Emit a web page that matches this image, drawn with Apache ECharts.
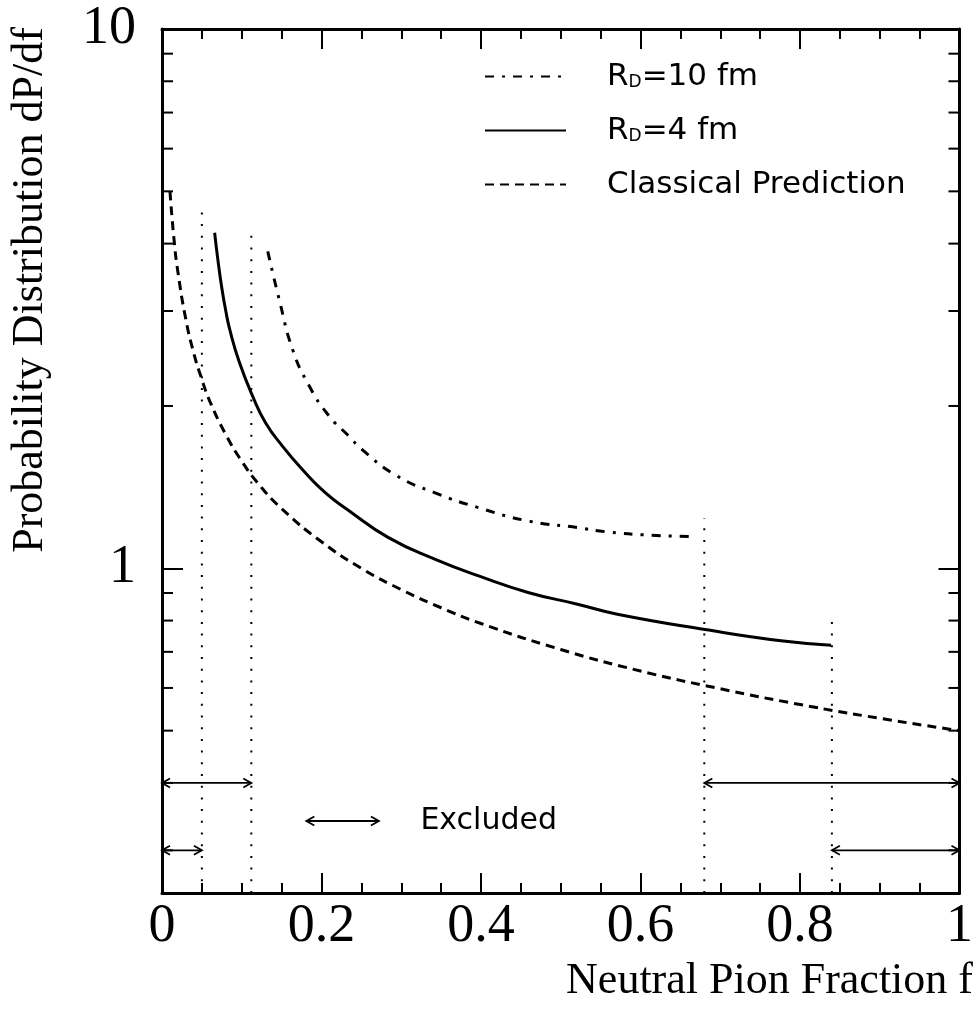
<!DOCTYPE html>
<html>
<head>
<meta charset="utf-8">
<script src="https://cdn.jsdelivr.net/npm/echarts@6/dist/echarts.min.js"></script>
<style>
html,body{margin:0;padding:0;background:#fff;}
#chart{width:976px;height:1015px;}
</style>
</head>
<body>
<div id="chart"></div>
<script>
// ---------- data ----------
const xTickLabels = ['0', '0.2', '0.4', '0.6', '0.8', '1'];
const yTickValues = [1, 10];
const yTickLabels = ['1', '10'];
const yMinorTicks = [0.3, 0.4, 0.5, 0.6, 0.7, 0.8, 0.9, 2, 3, 4, 5, 6, 7, 8, 9];

const seriesNames = ['R_D=10 fm', 'R_D=4 fm', 'Classical Prediction'];

// Classical prediction (dashed)
const classicalF = [0.01, 0.015, 0.02, 0.03, 0.04, 0.05, 0.06, 0.08, 0.10, 0.12, 0.15, 0.20, 0.25, 0.30, 0.35, 0.40, 0.50, 0.60, 0.70, 0.80, 0.90, 1.00];
const classicalP = [5.0, 4.08, 3.54, 2.89, 2.50, 2.24, 2.04, 1.77, 1.58, 1.44, 1.29, 1.12, 1.00, 0.913, 0.845, 0.79, 0.707, 0.645, 0.598, 0.559, 0.527, 0.50];

// R_D = 4 fm (solid)
const rd4F = [0.066, 0.070, 0.075, 0.080, 0.085, 0.097, 0.114, 0.130, 0.151, 0.176, 0.205, 0.234, 0.284, 0.342, 0.397, 0.459, 0.521, 0.571, 0.681, 0.779, 0.839];
const rd4P = [4.19, 3.74, 3.31, 3.00, 2.77, 2.41, 2.08, 1.86, 1.685, 1.525, 1.38, 1.28, 1.14, 1.04, 0.968, 0.902, 0.858, 0.822, 0.770, 0.733, 0.720];

// R_D = 10 fm (dash-dot)
const rd10F = [0.1326, 0.147, 0.164, 0.1845, 0.209, 0.234, 0.251, 0.2925, 0.344, 0.3965, 0.459, 0.521, 0.5586, 0.6126, 0.669];
const rd10P = [3.87, 3.15, 2.54, 2.18, 1.92, 1.76, 1.66, 1.49, 1.377, 1.296, 1.224, 1.19, 1.168, 1.152, 1.145];

// vertical dotted boundaries of the excluded regions
const boundaryF = [0.05, 0.112, 0.68, 0.84];
const boundaryTop = [4.68, 4.28, 1.24, 0.80];

// excluded ranges (double arrows)
const excludedFrom = [0, 0.68, 0, 0.84];
const excludedTo = [0.112, 1, 0.05, 1];
const excludedLevel = [0.4, 0.4, 0.3, 0.3];

// ---------- chart ----------
const Y_MIN = 0.25, Y_MAX = 10;
const SERIF = '"Liberation Serif", "Times New Roman", serif';
const SANS = '"DejaVu Sans", sans-serif';
const keyArrow = { from: 0.181, to: 0.272, level: 0.34, textAt: 0.324 };

function arrowChildren(x1, x2, y) {
  const st = { stroke: '#000', lineWidth: 1.8, fill: null };
  const h = 8, w = 4.5;
  return [
    { type: 'line', shape: { x1: x1, y1: y, x2: x2, y2: y }, style: st },
    { type: 'polyline', shape: { points: [[x1 + h, y - w], [x1, y], [x1 + h, y + w]] }, style: st },
    { type: 'polyline', shape: { points: [[x2 - h, y - w], [x2, y], [x2 - h, y + w]] }, style: st }
  ];
}

const axisLineStyle = { color: '#000', width: 3 };
const tickStyle = { color: '#000', width: 2 };

const chart = echarts.init(document.getElementById('chart'), null, { renderer: 'canvas' });

const option = {
  animation: false,
  backgroundColor: '#fff',
  grid: { left: 162, right: 12, top: 29, bottom: 122, containLabel: false },
  xAxis: [
    {
      type: 'value', min: 0, max: 1, interval: 0.2, position: 'bottom',
      axisLine: { show: true, onZero: false, lineStyle: axisLineStyle },
      axisTick: { show: true, inside: true, length: 20, lineStyle: tickStyle },
      minorTick: { show: true, splitNumber: 4, length: 10, lineStyle: tickStyle },
      splitLine: { show: false }, minorSplitLine: { show: false },
      axisLabel: {
        show: true, fontFamily: SERIF, fontSize: 54, color: '#000', margin: 7, lineHeight: 54,
        formatter: v => xTickLabels[Math.round(v / 0.2)]
      }
    },
    {
      type: 'value', min: 0, max: 1, interval: 0.2, position: 'top',
      axisLine: { show: true, onZero: false, lineStyle: axisLineStyle },
      axisTick: { show: true, inside: true, length: 20, lineStyle: tickStyle },
      minorTick: { show: true, splitNumber: 4, length: 10, lineStyle: tickStyle },
      splitLine: { show: false }, minorSplitLine: { show: false },
      axisLabel: { show: false }
    }
  ],
  yAxis: [
    {
      type: 'log', logBase: 10, min: Y_MIN, max: Y_MAX, position: 'left',
      axisLine: { show: true, onZero: false, lineStyle: axisLineStyle },
      axisTick: { show: true, inside: true, length: 21, lineStyle: tickStyle },
      splitLine: { show: false },
      axisLabel: {
        show: true, fontFamily: SERIF, fontSize: 54, color: '#000', margin: 26,
        showMinLabel: true, showMaxLabel: true,
        formatter: v => {
          const i = yTickValues.findIndex(t => Math.abs(t - v) < 1e-6);
          return i >= 0 ? yTickLabels[i] : '';
        }
      }
    },
    {
      type: 'log', logBase: 10, min: Y_MIN, max: Y_MAX, position: 'right',
      axisLine: { show: true, onZero: false, lineStyle: axisLineStyle },
      axisTick: { show: true, inside: true, length: 21, lineStyle: tickStyle },
      splitLine: { show: false },
      axisLabel: { show: false }
    }
  ],
  legend: {
    data: seriesNames,
    orient: 'vertical',
    left: 484, top: 61, padding: 0,
    itemWidth: 81, itemHeight: 14, itemGap: 23,
    selectedMode: false,
    itemStyle: { opacity: 0 },
    formatter: name => name.replace('R_D', 'R{sub|D}'),
    textStyle: {
      fontFamily: SANS, fontSize: 31, color: '#000', lineHeight: 30,
      padding: [0, 0, 0, 36],
      rich: {
        sub: { fontFamily: SANS, fontSize: 17, lineHeight: 17, color: '#000', verticalAlign: 'bottom' }
      }
    }
  },
  graphic: [
    {
      type: 'text', x: 973, y: 981, silent: true,
      style: { text: 'Neutral Pion Fraction f', fontFamily: SERIF, fontSize: 44, fill: '#000', align: 'right', verticalAlign: 'middle' }
    },
    {
      type: 'text', x: 30, y: 290, rotation: Math.PI / 2, silent: true,
      style: { text: 'Probability Distribution dP/df', fontFamily: SERIF, fontSize: 44, fill: '#000', align: 'center', verticalAlign: 'middle' }
    }
  ],
  series: [
    {
      name: seriesNames[0], type: 'line', symbol: 'none', showSymbol: false,
      smooth: 0.5,
      data: rd10F.map((f, i) => [f, rd10P[i]]),
      lineStyle: { color: '#000', width: 3, type: [9, 8, 3, 8] },
      itemStyle: { color: '#000' }, z: 3
    },
    {
      name: seriesNames[1], type: 'line', symbol: 'none', showSymbol: false,
      smooth: 0.5,
      data: rd4F.map((f, i) => [f, rd4P[i]]),
      lineStyle: { color: '#000', width: 3, type: 'solid' },
      itemStyle: { color: '#000' }, z: 3
    },
    {
      name: seriesNames[2], type: 'line', symbol: 'none', showSymbol: false,
      smooth: 0.5,
      data: classicalF.map((f, i) => [f, classicalP[i]]),
      lineStyle: { color: '#000', width: 3, type: [9, 6] },
      itemStyle: { color: '#000' }, z: 3
    },
    {
      name: 'boundaries', type: 'custom', silent: true, z: 2,
      data: boundaryF.map((f, i) => [f, boundaryTop[i]]),
      renderItem: (params, api) => {
        const f = api.value(0), top = api.value(1);
        const p0 = api.coord([f, Y_MIN]);
        const p1 = api.coord([f, top]);
        return {
          type: 'line',
          shape: { x1: p0[0], y1: p0[1], x2: p1[0], y2: p1[1] },
          style: { stroke: '#000', lineWidth: 2, lineDash: [2, 9.7] }
        };
      }
    },
    {
      name: 'excluded', type: 'custom', silent: true, z: 4,
      data: excludedFrom.map((f, i) => [f, excludedLevel[i], excludedTo[i]]),
      renderItem: (params, api) => {
        const a = api.coord([api.value(0), api.value(1)]);
        const b = api.coord([api.value(2), api.value(1)]);
        return { type: 'group', children: arrowChildren(a[0], b[0], a[1]) };
      }
    },
    {
      name: 'key', type: 'custom', silent: true, z: 4,
      data: [[keyArrow.from, keyArrow.level]],
      renderItem: (params, api) => {
        const a = api.coord([keyArrow.from, keyArrow.level]);
        const b = api.coord([keyArrow.to, keyArrow.level]);
        const t = api.coord([keyArrow.textAt, keyArrow.level]);
        const ch = arrowChildren(a[0], b[0], a[1]);
        ch.push({
          type: 'text',
          style: { text: 'Excluded', x: t[0], y: t[1], fontFamily: SANS, fontSize: 30, fill: '#000', align: 'left', verticalAlign: 'middle' }
        });
        return { type: 'group', children: ch };
      }
    },
    {
      name: 'minorY', type: 'custom', silent: true, z: 5,
      data: yMinorTicks.map(v => [0, v]),
      renderItem: (params, api) => {
        const v = api.value(1);
        const l = api.coord([0, v]);
        const r = api.coord([1, v]);
        const st = { stroke: '#000', lineWidth: 2 };
        return {
          type: 'group', children: [
            { type: 'line', shape: { x1: l[0], y1: l[1], x2: l[0] + 11, y2: l[1] }, style: st },
            { type: 'line', shape: { x1: r[0], y1: r[1], x2: r[0] - 11, y2: r[1] }, style: st }
          ]
        };
      }
    }
  ]
};

chart.setOption(option);
</script>
</body>
</html>
